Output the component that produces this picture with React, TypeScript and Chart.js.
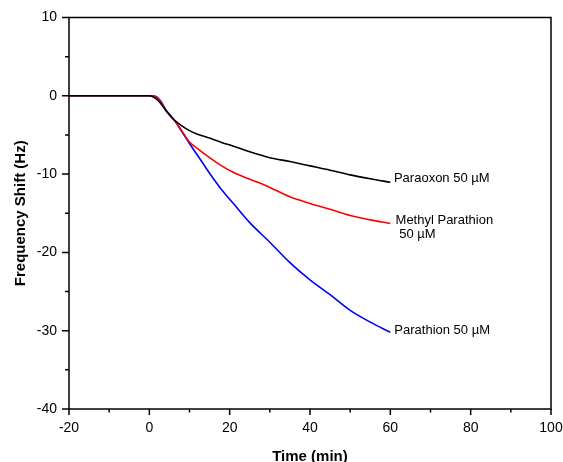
import React, { useEffect, useRef } from 'react';
import { Chart, registerables } from 'chart.js';

Chart.register(...registerables);

const timeMin = [-20, 0, 1, 2, 3, 4, 6, 8, 10, 12, 15, 18, 21, 25, 30, 35, 40, 45, 50, 55, 60];
const paraoxon = [0, 0, -0.15, -0.5, -1.1, -1.8, -3.0, -3.8, -4.45, -4.9, -5.4, -5.95, -6.45, -7.15, -7.9, -8.4, -8.95, -9.5, -10.1, -10.6, -11.05];
const methylParathion = [0, 0, 0, -0.3, -0.9, -1.8, -3.0, -4.4, -5.9, -6.75, -7.9, -8.95, -9.8, -10.65, -11.7, -12.9, -13.75, -14.5, -15.3, -15.85, -16.3];
const parathion = [0, 0, 0, -0.2, -0.8, -1.7, -2.95, -4.5, -6.1, -7.6, -9.9, -12.0, -13.8, -16.2, -18.7, -21.3, -23.5, -25.4, -27.4, -28.9, -30.2];

const xMajorTicks = [-20, 0, 20, 40, 60, 80, 100];
const xMinorTicks = [-10, 10, 30, 50, 70, 90];
const yMajorTicks = [-40, -30, -20, -10, 0, 10];
const yMinorTicks = [-35, -25, -15, -5, 5];

const labelTexts = ['Paraoxon 50 µM', 'Methyl Parathion', '50 µM', 'Parathion 50 µM'];

const FONT = '"Liberation Sans", Arial, sans-serif';

const toPoints = (ys: number[]) => timeMin.map((t, i) => ({ x: t, y: ys[i] }));

export default function App() {
  const canvasRef = useRef<HTMLCanvasElement | null>(null);

  useEffect(() => {
    if (!canvasRef.current) return;
    const anchors = [
      { x: 60.9, y: -10.56 },
      { x: 61.3, y: -15.86 },
      { x: 62.2, y: -17.74 },
      { x: 61.0, y: -30.0 },
    ];
    const framePlugin = {
      id: 'frame',
      afterDatasetsDraw(chart: any) {
        const { ctx, chartArea, scales } = chart;
        const { left, right, top, bottom } = chartArea;
        const xs = scales.x;
        const ys = scales.y;
        ctx.save();
        ctx.strokeStyle = '#000';
        ctx.lineWidth = 1.5;
        ctx.strokeRect(left, top, right - left, bottom - top);
        ctx.beginPath();
        xMajorTicks.forEach((v) => {
          const p = xs.getPixelForValue(v);
          ctx.moveTo(p, bottom);
          ctx.lineTo(p, bottom + 6);
        });
        xMinorTicks.forEach((v) => {
          const p = xs.getPixelForValue(v);
          ctx.moveTo(p, bottom);
          ctx.lineTo(p, bottom + 3.5);
        });
        yMajorTicks.forEach((v) => {
          const p = ys.getPixelForValue(v);
          ctx.moveTo(left, p);
          ctx.lineTo(left - 7, p);
        });
        yMinorTicks.forEach((v) => {
          const p = ys.getPixelForValue(v);
          ctx.moveTo(left, p);
          ctx.lineTo(left - 4, p);
        });
        ctx.stroke();
        ctx.fillStyle = '#000';
        ctx.font = '13px ' + FONT;
        ctx.textAlign = 'left';
        ctx.textBaseline = 'middle';
        labelTexts.forEach((t, i) => {
          ctx.fillText(t, xs.getPixelForValue(anchors[i].x), ys.getPixelForValue(anchors[i].y));
        });
        ctx.restore();
      },
    };

    const chart = new Chart(canvasRef.current, {
      type: 'line',
      data: {
        datasets: [
          { label: 'Paraoxon 50 µM', data: toPoints(paraoxon), borderColor: '#000000' },
          { label: 'Methyl Parathion 50 µM', data: toPoints(methylParathion), borderColor: '#ff0000' },
          { label: 'Parathion 50 µM', data: toPoints(parathion), borderColor: '#0000ff' },
        ].map((d) => ({
          ...d,
          borderWidth: 1.6,
          pointRadius: 0,
          fill: false,
          cubicInterpolationMode: 'monotone' as const,
        })),
      },
      options: {
        animation: false,
        responsive: false,
        maintainAspectRatio: false,
        layout: { padding: { top: 17.5, right: 0, left: 0, bottom: 0 } },
        plugins: { legend: { display: false }, tooltip: { enabled: false } },
        scales: {
          x: {
            type: 'linear',
            min: -20,
            max: 100,
            grid: { display: false, drawTicks: false },
            border: { display: false },
            ticks: {
              stepSize: 20,
              padding: 11,
              color: '#000',
              font: { size: 14, family: FONT },
              maxRotation: 0,
            },
            title: {
              display: true,
              text: 'Time (min)',
              color: '#000',
              font: { size: 15, weight: 'bold', family: FONT, lineHeight: 0.73 },
              padding: { top: 0, bottom: 0 },
            },
            afterFit: (s: any) => {
              s.height = 53;
              s.paddingLeft = 0;
              s.paddingRight = 12;
            },
          },
          y: {
            type: 'linear',
            min: -40,
            max: 10,
            grid: { display: false, drawTicks: false },
            border: { display: false },
            ticks: {
              stepSize: 10,
              padding: 12,
              color: '#000',
              font: { size: 14, family: FONT },
            },
            title: {
              display: true,
              text: 'Frequency Shift (Hz)',
              color: '#000',
              font: { size: 15, weight: 'bold', family: FONT, lineHeight: 1.1 },
              padding: { top: 12.5, bottom: 0 },
            },
            afterFit: (s: any) => {
              s.width = 69;
              s.paddingTop = 0;
              s.paddingBottom = 0;
            },
          },
        },
      },
      plugins: [framePlugin],
    });
    return () => chart.destroy();
  }, []);

  return (
    <div style={{ position: 'fixed', left: 0, top: 0, width: 563, height: 462, background: '#fff' }}>
      <canvas ref={canvasRef} width={563} height={462} style={{ width: 563, height: 462, display: 'block' }} />
    </div>
  );
}
